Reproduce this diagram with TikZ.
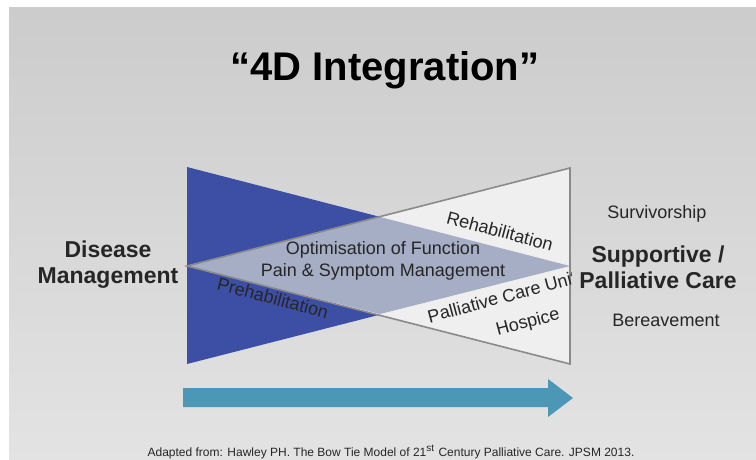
\documentclass[tikz,border=0pt]{standalone}
\usepackage{fontspec}
\setmainfont{Liberation Sans}
\usepackage{tikz}
\usetikzlibrary{positioning}

\definecolor{bowblue}{HTML}{3C4FA5}
\definecolor{bowmix}{HTML}{A6AEC6}
\definecolor{bowpale}{HTML}{EFEFEF}
\definecolor{bowline}{HTML}{8A8A8A}
\definecolor{arrowteal}{HTML}{4B97B5}
\definecolor{inkdark}{HTML}{262626}

\tikzset{
  heading/.style={font=\bfseries\fontsize{11.5}{13}\selectfont, align=center, text=inkdark},
  side/.style={font=\fontsize{9}{11}\selectfont, text=inkdark},
  slant/.style={font=\fontsize{9}{11}\selectfont, text=inkdark, inner sep=0pt}
}

\begin{document}
\begin{tikzpicture}[x=0.5pt, y=-0.5pt]
\useasboundingbox (0,0) rectangle (756,460);
\fill[white] (0,0) rectangle (756,460);
\shade[top color=black!20, bottom color=black!11] (9,8) rectangle (756,460);
% bow tie
\fill[bowblue] (187,167) -- (187,364) -- (570,266) -- cycle;
\fill[bowpale] (570,168) -- (570,364) -- (187,266) -- cycle;
\fill[bowmix] (187,266) -- (380,217) -- (570,266) -- (380,314) -- cycle;
\draw[bowline, line width=0.8pt] (570,168) -- (570,364) -- (187,266) -- cycle;
\draw (385,70)   node (title) {\bfseries\fontsize{20}{23}\selectfont “4D Integration”};
\draw (108,265)  node (dm)   [heading] {Disease\\Management};
\draw (658,267)  node (spc)  [heading] {Supportive /\\Palliative Care};
\draw (657,214)  node (surv) [side] {Survivorship};
\draw (666,320)  node (ber)  [side] {Bereavement};
\draw (383,261)  node (opt)  [side, align=center] {Optimisation of Function\\Pain \& Symptom Management};
\draw (500,231)  node (rehab)  [slant, rotate=-15] {Rehabilitation};
\draw (273,298)  node (prehab) [slant, rotate=-15] {Prehabilitation};
\begin{scope}
\clip (380,250) rectangle (571,340);
\draw (502,297)  node (pcu)  [slant, rotate=15] {Palliative Care Unit};
\end{scope}
\draw (528,323)  node (hosp) [slant, rotate=15] {Hospice};
% arrow
\fill[arrowteal] (183,388) -- (548,388) -- (548,379) -- (573,398) -- (548,417) -- (548,407) -- (183,407) -- cycle;
\draw (391,452)  node (src)  [font=\fontsize{6}{7}\selectfont, text=inkdark] {Adapted from: Hawley PH. The Bow Tie Model of 21\textsuperscript{st} Century Palliative Care. JPSM 2013.};
\end{tikzpicture}
\end{document}
